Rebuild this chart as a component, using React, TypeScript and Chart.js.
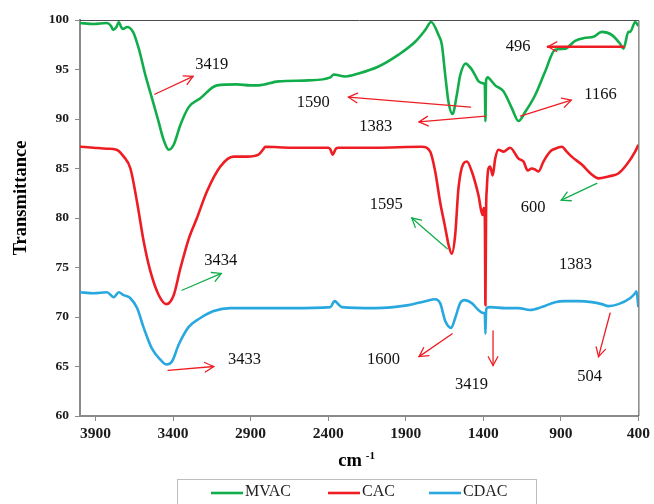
import React, { useEffect, useRef } from 'react';
import { Chart, registerables } from 'chart.js';

Chart.register(...registerables);

// ---- Data (wavenumber cm-1, transmittance %) ----
const seriesNames = ['MVAC', 'CAC', 'CDAC'];
const xTicks = [3900, 3400, 2900, 2400, 1900, 1400, 900, 400];

const mvacWn = [4000, 3912, 3828, 3800, 3787, 3765, 3750, 3735, 3722, 3697, 3658, 3621, 3578, 3536, 3493, 3461, 3428, 3396, 3353, 3299, 3224, 3117, 2988, 2902, 2849, 2720, 2526, 2386, 2365, 2290, 2204, 2075, 1946, 1839, 1774, 1736, 1689, 1667, 1645, 1624, 1598, 1571, 1549, 1513, 1490, 1474, 1452, 1430, 1400, 1390, 1386, 1382, 1370, 1362, 1323, 1270, 1216, 1173, 1130, 1066, 1001, 937, 872, 808, 743, 690, 636, 572, 518, 496, 464, 453, 420, 400];
const mvacT = [99.7, 99.6, 99.7, 99.4, 99.0, 99.3, 99.8, 99.3, 99.1, 99.3, 98.8, 97.1, 94.4, 92.1, 89.7, 87.9, 86.9, 87.4, 89.4, 91.2, 92.1, 93.4, 93.5, 93.4, 93.4, 93.8, 93.9, 94.2, 94.5, 94.3, 94.6, 95.3, 96.5, 97.8, 99.0, 99.8, 98.5, 97.5, 94.4, 91.7, 90.5, 92.4, 94.4, 95.6, 95.3, 95.0, 94.4, 93.8, 93.6, 93.4, 89.8, 93.9, 94.2, 94.1, 93.4, 92.8, 91.1, 89.8, 90.7, 92.4, 94.8, 97.0, 97.1, 97.9, 98.2, 98.3, 98.8, 98.5, 97.6, 97.1, 98.8, 98.8, 99.8, 99.4];

const cacWn = [4000, 3912, 3826, 3765, 3718, 3675, 3632, 3589, 3546, 3492, 3443, 3396, 3353, 3299, 3246, 3181, 3095, 3010, 2924, 2849, 2816, 2806, 2634, 2397, 2385, 2372, 2350, 2333, 2097, 1796, 1742, 1710, 1678, 1645, 1624, 1603, 1581, 1560, 1528, 1506, 1474, 1431, 1405, 1397, 1390, 1386, 1382, 1377, 1367, 1356, 1339, 1323, 1302, 1270, 1227, 1173, 1141, 1113, 1088, 1066, 1044, 1012, 969, 937, 894, 862, 830, 765, 701, 658, 593, 529, 475, 421, 400];
const cacT = [87.2, 87.1, 87.0, 86.9, 86.2, 85.0, 81.6, 77.6, 74.6, 72.2, 71.3, 72.2, 74.9, 77.9, 80.0, 82.7, 85.2, 86.2, 86.2, 86.4, 87.0, 87.2, 87.1, 87.1, 86.9, 86.4, 87.0, 87.1, 87.1, 87.2, 86.7, 84.7, 81.6, 79.0, 77.3, 76.4, 78.3, 83.0, 85.5, 85.7, 84.7, 82.3, 80.3, 81.0, 80.0, 71.2, 80.5, 83.0, 85.0, 85.2, 84.3, 86.0, 86.9, 86.7, 87.1, 86.0, 85.7, 84.8, 85.0, 84.9, 84.7, 85.7, 86.7, 87.0, 87.2, 86.7, 86.2, 85.4, 84.4, 84.0, 84.2, 84.5, 85.4, 86.7, 87.4];

const cdacWn = [4000, 3912, 3826, 3783, 3750, 3718, 3675, 3632, 3589, 3536, 3482, 3443, 3407, 3364, 3299, 3224, 3138, 3031, 2902, 2634, 2386, 2359, 2312, 2097, 1882, 1774, 1710, 1678, 1645, 1607, 1581, 1549, 1521, 1474, 1431, 1399, 1390, 1386, 1382, 1377, 1356, 1259, 1173, 1098, 1023, 937, 872, 787, 701, 636, 593, 529, 454, 421, 412, 400];
const cdacT = [72.5, 72.4, 72.5, 72.0, 72.5, 72.2, 71.9, 70.9, 68.9, 66.8, 65.7, 65.2, 65.5, 67.2, 69.0, 69.9, 70.6, 70.9, 70.9, 70.9, 71.0, 71.6, 71.0, 70.9, 71.2, 71.6, 71.8, 71.4, 69.6, 68.9, 69.9, 71.4, 71.7, 71.4, 70.7, 70.4, 70.3, 68.3, 70.6, 70.9, 71.0, 70.9, 70.9, 70.7, 71.0, 71.5, 71.6, 71.6, 71.5, 71.3, 71.1, 71.3, 71.9, 72.4, 72.6, 71.0];

// ---- Peak annotations (data coordinates) ----
const annoLabels = ['3419', '1590', '1383', '1166', '496', '3434', '1595', '600', '1383', '3433', '1600', '3419', '504'];
const annoTextWn = [3151, 2496, 2094, 644, 1175, 3093, 2025, 1078, 805, 2939, 2044, 1476, 715];
const annoTextT = [95.5, 91.6, 89.2, 92.5, 97.3, 75.7, 81.3, 81.0, 75.3, 65.7, 65.7, 63.2, 64.0];
// arrows: from -> to (head at "to"); null = no arrow
const arrowFromWn = [3518, 1482, 1385, 1160, 496, 3342, 1632, 668, null, 3432, 1600, 1337, 582];
const arrowFromT = [92.5, 91.2, 90.3, 90.3, 97.3, 72.7, 76.9, 83.5, null, 64.6, 68.3, 68.6, 70.4];
const arrowToWn = [3271, 2269, 1814, 833, 983, 3089, 1861, 897, null, 3138, 1814, 1337, 657];
const arrowToT = [94.3, 92.2, 89.7, 91.9, 97.3, 74.4, 80.0, 81.8, null, 65.0, 66.0, 65.1, 66.0];
const arrowKind = ['r', 'r', 'r', 'r', 'R', 'g', 'g', 'g', '', 'r', 'r', 'r', 'r'];

const COLORS = ['#12AD4B', '#EE1D23', '#29A8E0'];
const RED = '#EE1D23';
const GREEN = '#12AD4B';
const SERIF = '"Liberation Serif", "Times New Roman", serif';

function toPts(wn: number[], t: number[]) {
  return wn.map((x, i) => ({ x, y: t[i] }));
}

function drawArrow(ctx: CanvasRenderingContext2D, x1: number, y1: number, x2: number, y2: number, color: string, width: number) {
  ctx.save();
  ctx.strokeStyle = color;
  ctx.lineCap = 'round';
  ctx.lineWidth = width;
  ctx.beginPath();
  ctx.moveTo(x1, y1);
  ctx.lineTo(x2, y2);
  ctx.stroke();
  const a = Math.atan2(y2 - y1, x2 - x1);
  const h = 10;
  const s = 0.5;
  ctx.lineWidth = 1.3;
  ctx.beginPath();
  ctx.moveTo(x2 - h * Math.cos(a - s), y2 - h * Math.sin(a - s));
  ctx.lineTo(x2, y2);
  ctx.lineTo(x2 - h * Math.cos(a + s), y2 - h * Math.sin(a + s));
  ctx.stroke();
  ctx.restore();
}

const decorPlugin = {
  id: 'decor',
  afterDraw(chart: any) {
    const { ctx, chartArea, scales } = chart;
    const xs = scales.x;
    const ys = scales.y;
    ctx.save();
    // top & right frame
    ctx.strokeStyle = '#4d4d4d';
    ctx.lineWidth = 1;
    ctx.beginPath();
    ctx.moveTo(chartArea.left, chartArea.top + 0.5);
    ctx.lineTo(chartArea.right + 0.5, chartArea.top + 0.5);
    ctx.lineTo(chartArea.right + 0.5, chartArea.bottom);
    ctx.stroke();

    // arrows
    for (let i = 0; i < annoLabels.length; i++) {
      const fw = arrowFromWn[i];
      if (fw === null) continue;
      const kind = arrowKind[i];
      const color = kind === 'g' ? GREEN : RED;
      drawArrow(
        ctx,
        xs.getPixelForValue(fw as number), ys.getPixelForValue(arrowFromT[i] as number),
        xs.getPixelForValue(arrowToWn[i] as number), ys.getPixelForValue(arrowToT[i] as number),
        color, kind === 'R' ? 2.6 : 1.3
      );
    }
    // annotation text
    ctx.fillStyle = '#111';
    ctx.font = `16.5px ${SERIF}`;
    ctx.textAlign = 'center';
    ctx.textBaseline = 'middle';
    for (let i = 0; i < annoLabels.length; i++) {
      ctx.fillText(annoLabels[i], xs.getPixelForValue(annoTextWn[i]), ys.getPixelForValue(annoTextT[i]));
    }

    // y title
    ctx.save();
    ctx.translate(21, (chartArea.top + chartArea.bottom) / 2 - 20);
    ctx.rotate(-Math.PI / 2);
    ctx.font = `bold 18.5px ${SERIF}`;
    ctx.fillStyle = '#000';
    ctx.textAlign = 'center';
    ctx.textBaseline = 'middle';
    ctx.fillText('Transmittance', 0, 0);
    ctx.restore();

    // x title "cm -1"
    ctx.font = `bold 18.5px ${SERIF}`;
    ctx.fillStyle = '#000';
    ctx.textAlign = 'left';
    ctx.textBaseline = 'alphabetic';
    const cmW = ctx.measureText('cm').width;
    const cx = (chartArea.left + chartArea.right) / 2 - 21;
    ctx.fillText('cm', cx, 466);
    ctx.font = `bold 11px ${SERIF}`;
    ctx.fillText('-1', cx + cmW + 4, 459);

    // legend
    ctx.strokeStyle = '#bdbdbd';
    ctx.lineWidth = 1;
    ctx.strokeRect(177.5, 479.5, 359, 40);
    const lineX = [211, 328, 429];
    ctx.font = `16px ${SERIF}`;
    ctx.textBaseline = 'middle';
    ctx.textAlign = 'left';
    for (let i = 0; i < seriesNames.length; i++) {
      ctx.strokeStyle = COLORS[i];
      ctx.lineWidth = 2.6;
      ctx.beginPath();
      ctx.moveTo(lineX[i], 493);
      ctx.lineTo(lineX[i] + 32, 493);
      ctx.stroke();
      ctx.fillStyle = '#222';
      ctx.fillText(seriesNames[i], lineX[i] + 34, 492);
    }
    ctx.restore();
  },
};

export default function App() {
  const ref = useRef<HTMLCanvasElement | null>(null);
  useEffect(() => {
    if (!ref.current) return;
    const chart = new Chart(ref.current, {
      type: 'line',
      data: {
        datasets: [
          { label: seriesNames[0], data: toPts(mvacWn, mvacT), borderColor: COLORS[0] },
          { label: seriesNames[1], data: toPts(cacWn, cacT), borderColor: COLORS[1] },
          { label: seriesNames[2], data: toPts(cdacWn, cdacT), borderColor: COLORS[2] },
        ].map((d) => ({ ...d, borderWidth: 2.6, pointRadius: 0, fill: false, cubicInterpolationMode: 'monotone' as const })),
      },
      options: {
        responsive: false,
        animation: false,
        layout: { padding: { left: 0, right: 14, top: 20, bottom: 0 } },
        plugins: { legend: { display: false }, tooltip: { enabled: false } },
        scales: {
          x: {
            type: 'linear',
            reverse: true,
            min: 400,
            max: 4000,
            afterBuildTicks: (s: any) => {
              s.ticks = xTicks.map((v) => ({ value: v }));
            },
            afterFit: (s: any) => {
              s.height = 88;
            },
            grid: { drawOnChartArea: false, drawTicks: true, tickLength: 5, color: '#8a8a8a' },
            border: { display: true, color: '#8a8a8a', width: 2 },
            ticks: {
              autoSkip: false,
              maxRotation: 0,
              padding: 4,
              color: '#1a1a1a',
              font: { family: SERIF, weight: 'bold', size: 15.5 },
              callback: (v: any) => String(v),
            },
          },
          y: {
            min: 60,
            max: 100,
            afterFit: (s: any) => {
              s.width = 80;
            },
            grid: { drawOnChartArea: false, drawTicks: true, tickLength: 5, color: '#8a8a8a' },
            border: { display: true, color: '#8a8a8a', width: 2 },
            ticks: {
              stepSize: 5,
              padding: 6,
              color: '#1a1a1a',
              font: { family: SERIF, weight: 'bold', size: 13.5 },
              callback: (v: any) => String(v),
            },
          },
        },
      },
      plugins: [decorPlugin],
    });
    return () => chart.destroy();
  }, []);
  return (
    <div style={{ position: 'fixed', left: 0, top: 0, width: 654, height: 504, background: '#fff' }}>
      <canvas ref={ref} width={654} height={504} style={{ display: 'block' }} />
    </div>
  );
}
